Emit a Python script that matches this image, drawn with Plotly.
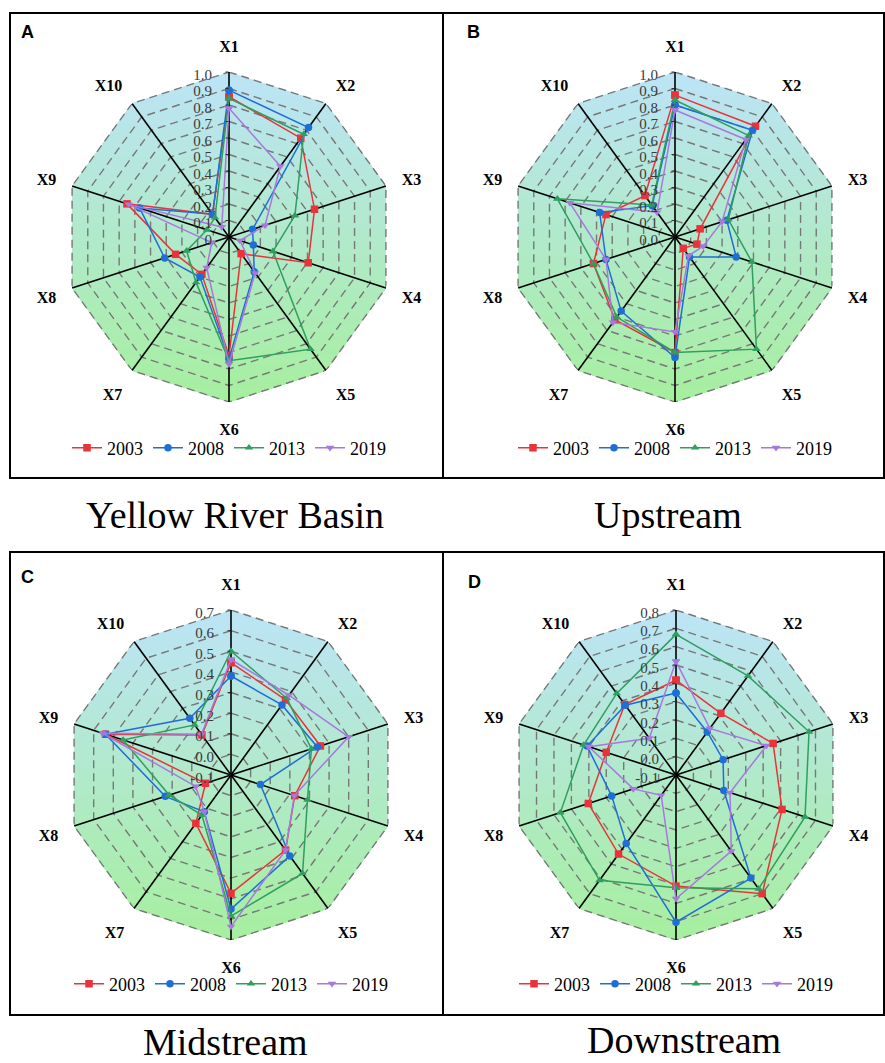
import math
import plotly.graph_objects as go

W, H = 885, 1063

# ---------------- data ----------------
categories = ["X1", "X2", "X3", "X4", "X5", "X6", "X7", "X8", "X9", "X10"]
years = ["2003", "2008", "2013", "2019"]

# A  Yellow River Basin
yrb_2003 = [0.85, 0.74, 0.545, 0.505, 0.125, 0.72, 0.28, 0.34, 0.65, 0.17]
yrb_2008 = [0.89, 0.82, 0.15, 0.155, 0.26, 0.74, 0.30, 0.41, 0.57, 0.17]
yrb_2013 = [0.84, 0.77, 0.42, 0.28, 0.84, 0.75, 0.34, 0.27, 0.14, 0.145]
yrb_2019 = [0.78, 0.53, 0.23, 0.07, 0.27, 0.77, 0.23, 0.11, 0.64, 0.075]

# B  Upstream
up_2003 = [0.86, 0.83, 0.16, 0.14, 0.085, 0.70, 0.62, 0.52, 0.44, 0.31]
up_2008 = [0.80, 0.80, 0.33, 0.39, 0.15, 0.73, 0.555, 0.44, 0.48, 0.235]
up_2013 = [0.83, 0.76, 0.34, 0.49, 0.84, 0.70, 0.60, 0.52, 0.75, 0.24]
up_2019 = [0.77, 0.73, 0.30, 0.18, 0.14, 0.575, 0.64, 0.44, 0.67, 0.185]

# C  Midstream
mid_2003 = [0.445, 0.35, 0.356, 0.225, 0.35, 0.474, 0.19, 0.03, 0.54, 0.14]
mid_2008 = [0.38, 0.32, 0.34, 0.05, 0.385, 0.55, 0.12, 0.235, 0.54, 0.24]
mid_2013 = [0.50, 0.36, 0.31, 0.29, 0.49, 0.584, 0.14, 0.215, 0.45, 0.20]
mid_2019 = [0.46, 0.378, 0.50, 0.223, 0.35, 0.635, 0.12, 0.08, 0.555, 0.144]

# D  Downstream
down_2003 = [0.417, 0.316, 0.457, 0.508, 0.70, 0.506, 0.433, 0.403, 0.30, 0.375]
down_2008 = [0.347, 0.19, 0.17, 0.174, 0.595, 0.703, 0.362, 0.269, 0.41, 0.37]
down_2013 = [0.667, 0.568, 0.663, 0.64, 0.667, 0.515, 0.61, 0.563, 0.43, 0.45]
down_2019 = [0.52, 0.214, 0.418, 0.21, 0.413, 0.575, 0.037, 0.145, 0.40, 0.148]

# radial tick labels
ticks_a = ["0", "0.1", "0.2", "0.3", "0.4", "0.5", "0.6", "0.7", "0.8", "0.9", "1.0"]
ticks_b = ["0.0", "0.1", "0.2", "0.3", "0.4", "0.5", "0.6", "0.7", "0.8", "0.9", "1.0"]
ticks_c = ["-0.1", "0.0", "0.1", "0.2", "0.3", "0.4", "0.5", "0.6", "0.7"]
ticks_d = ["-0.1", "0.0", "0.1", "0.2", "0.3", "0.4", "0.5", "0.6", "0.7", "0.8"]

# ---------------- style / layout config ----------------
colors = ["#E8333A", "#1F6ED4", "#2F9E5E", "#A679DA"]
symbols = ["square", "circle", "triangle-up", "triangle-down"]
SERIF = "Times New Roman, Liberation Serif, DejaVu Serif, serif"
SANS = "Arial, Liberation Sans, sans-serif"
TOP_RGB = (188, 228, 247)
BOT_RGB = (166, 239, 158)

panels = [
    dict(title="Yellow River Basin", letter="A", series=[yrb_2003, yrb_2008, yrb_2013, yrb_2019],
         ticktext=ticks_a, cx=229, cy=237, box=(10, 13, 443, 478),
         letter_xy=(27, 32), legend_y=448, title_xy=(235, 515)),
    dict(title="Upstream", letter="B", series=[up_2003, up_2008, up_2013, up_2019],
         ticktext=ticks_b, cx=675, cy=237, box=(443, 13, 884, 478),
         letter_xy=(473, 32), legend_y=448, title_xy=(668, 515)),
    dict(title="Midstream", letter="C", series=[mid_2003, mid_2008, mid_2013, mid_2019],
         ticktext=ticks_c, cx=231, cy=775, box=(10, 552, 443, 1015),
         letter_xy=(27, 577), legend_y=984, title_xy=(225, 1042)),
    dict(title="Downstream", letter="D", series=[down_2003, down_2008, down_2013, down_2019],
         ticktext=ticks_d, cx=676, cy=775, box=(443, 552, 884, 1015),
         letter_xy=(474, 582), legend_y=984, title_xy=(684, 1040)),
]
R = 165  # polar radius in px


def fx(px):
    return px / W


def fy(py):
    return 1 - py / H


def clip_below(poly, yc):
    out = []
    n = len(poly)
    for i in range(n):
        p, q = poly[i], poly[(i + 1) % n]
        pin, qin = p[1] <= yc, q[1] <= yc
        if pin:
            out.append(p)
        if pin != qin:
            t = (yc - p[1]) / (q[1] - p[1])
            out.append((p[0] + t * (q[0] - p[0]), yc))
    return out


angles = [i * 36 for i in range(10)]
decagon = [(math.sin(math.radians(a)), math.cos(math.radians(a))) for a in angles]

fig = go.Figure()
layout_extra = {}
annotations = []
shapes = []

for k, p in enumerate(panels):
    pid = "polar" if k == 0 else f"polar{k + 1}"
    sub = pid
    lg = "legend" if k == 0 else f"legend{k + 1}"
    tt = p["ticktext"]
    tickvals = [float(t) for t in tt]
    r0 = tickvals[0]
    r1 = tickvals[-1]

    # gradient background: successive clipped decagons, top to bottom
    N = 70
    for i in range(N):
        yc = 1 - 2 * i / N
        poly = decagon if i == 0 else clip_below(decagon, yc)
        if len(poly) < 3:
            continue
        t = (i + 0.5) / N
        col = "rgb(%d,%d,%d)" % tuple(round(TOP_RGB[j] + (BOT_RGB[j] - TOP_RGB[j]) * t) for j in range(3))
        rr, th = [], []
        for (x, y) in poly + [poly[0]]:
            rn = math.hypot(x, y)
            rr.append(r0 + rn * (r1 - r0))
            th.append(math.degrees(math.atan2(x, y)) % 360 if rn > 1e-9 else 0)
        fig.add_trace(go.Scatterpolar(r=rr, theta=th, mode="lines", fill="toself",
                                      fillcolor=col, line=dict(width=0, color=col),
                                      hoverinfo="skip", showlegend=False, subplot=sub))

    # dashed decagon rings
    for v in tickvals[1:]:
        fig.add_trace(go.Scatterpolar(r=[v] * 11, theta=angles + [360], mode="lines",
                                      line=dict(color="#777777", width=1.4, dash="8px,5px"),
                                      hoverinfo="skip", showlegend=False, subplot=sub))
    # spokes
    sr, st = [], []
    for a in angles:
        sr += [r0, r1, None]
        st += [a, a, None]
    fig.add_trace(go.Scatterpolar(r=sr, theta=st, mode="lines",
                                  line=dict(color="black", width=1.6),
                                  hoverinfo="skip", showlegend=False, subplot=sub))

    # data
    for j, vals in enumerate(p["series"]):
        fig.add_trace(go.Scatterpolar(
            r=list(vals) + [vals[0]], theta=angles + [360], mode="lines+markers",
            name=years[j], line=dict(color=colors[j], width=1.5),
            marker=dict(symbol=symbols[j], size=7.5, color=colors[j]),
            subplot=sub, legend=lg, showlegend=True))

    x0 = fx(p["cx"] - R)
    x1 = fx(p["cx"] + R)
    y0 = fy(p["cy"] + R)
    y1 = fy(p["cy"] - R)
    layout_extra[pid] = dict(
        domain=dict(x=[x0, x1], y=[y0, y1]),
        bgcolor="rgba(0,0,0,0)",
        angularaxis=dict(direction="clockwise", rotation=90, tickmode="array",
                         tickvals=angles, ticktext=["<b>%s</b>" % c for c in categories],
                         showgrid=False, showline=False, ticks="outside", ticklen=13,
                         tickcolor="rgba(0,0,0,0)",
                         tickfont=dict(family=SERIF, size=16, color="black")),
        radialaxis=dict(range=[r0, r1], angle=90, side="counterclockwise",
                        tickmode="array", tickvals=tickvals, ticktext=tt,
                        showgrid=False, showline=False, ticks="outside", ticklen=3,
                        tickcolor="#333", tickfont=dict(family=SERIF, size=15, color="#3a3a3a")),
    )
    layout_extra[lg] = dict(orientation="h", x=fx(p["cx"]), y=fy(p["legend_y"]),
                            xanchor="center", yanchor="middle",
                            font=dict(family=SERIF, size=18, color="black"),
                            bgcolor="rgba(0,0,0,0)", itemwidth=30)

    bx0, by0, bx1, by1 = p["box"]
    shapes.append(dict(type="rect", xref="paper", yref="paper",
                       x0=fx(bx0), x1=fx(bx1), y0=fy(by1), y1=fy(by0),
                       line=dict(color="black", width=2)))
    annotations.append(dict(text="<b>%s</b>" % p["letter"], x=fx(p["letter_xy"][0]),
                            y=fy(p["letter_xy"][1]), xref="paper", yref="paper",
                            xanchor="center", yanchor="middle",
                            showarrow=False, font=dict(family=SANS, size=18, color="black")))
    annotations.append(dict(text=p["title"], x=fx(p["title_xy"][0]), y=fy(p["title_xy"][1]),
                            xref="paper", yref="paper", showarrow=False,
                            xanchor="center", yanchor="middle",
                            font=dict(family=SERIF, size=38, color="black")))

fig.update_layout(width=W, height=H, margin=dict(l=0, r=0, t=0, b=0),
                  paper_bgcolor="white", plot_bgcolor="white",
                  shapes=shapes, annotations=annotations, **layout_extra)

fig.write_html("out.html")
